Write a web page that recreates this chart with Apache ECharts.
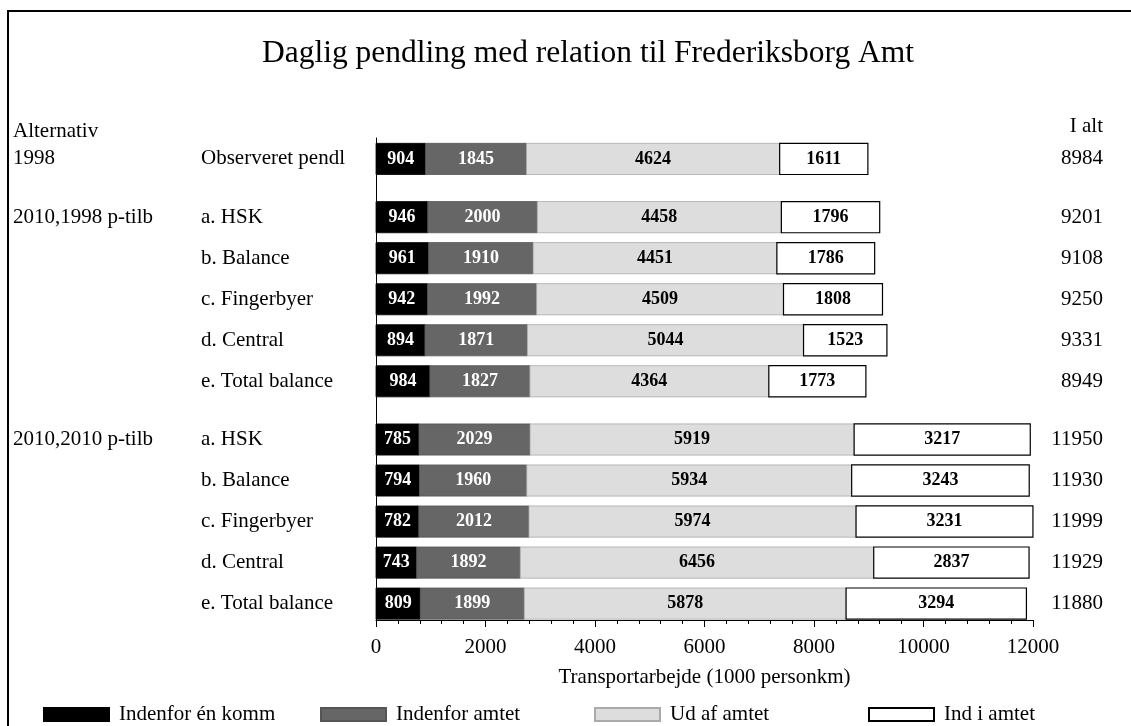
<!DOCTYPE html>
<html>
<head>
<meta charset="utf-8">
<script src="https://cdn.jsdelivr.net/npm/echarts@6/dist/echarts.min.js"></script>
<style>
    html, body { margin: 0; padding: 0; background: #fff; }
    #chart { width: 1131px; height: 726px; }
</style>
</head>
<body>
<div id="chart"></div>
<script>
// rækker (scenarier)
var rowNames = ['Observeret pendl', 'a. HSK', 'b. Balance', 'c. Fingerbyer', 'd. Central', 'e. Total balance',
    'a. HSK', 'b. Balance', 'c. Fingerbyer', 'd. Central', 'e. Total balance'];
var rowGroup = [0, 1, 1, 1, 1, 1, 2, 2, 2, 2, 2];
var groupNames = ['1998', '2010,1998 p-tilb', '2010,2010 p-tilb'];

var segNames = ['Indenfor én komm', 'Indenfor amtet', 'Ud af amtet', 'Ind i amtet'];
var indenforKomm = [904, 946, 961, 942, 894, 984, 785, 794, 782, 743, 809];
var indenforAmtet = [1845, 2000, 1910, 1992, 1871, 1827, 2029, 1960, 2012, 1892, 1899];
var udAfAmtet = [4624, 4458, 4451, 4509, 5044, 4364, 5919, 5934, 5974, 6456, 5878];
var indIAmtet = [1611, 1796, 1786, 1808, 1523, 1773, 3217, 3243, 3231, 2837, 3294];
var iAlt = [8984, 9201, 9108, 9250, 9331, 8949, 11950, 11930, 11999, 11929, 11880];

var xTicks = [0, 2000, 4000, 6000, 8000, 10000, 12000];

var FONT = '"Liberation Serif", "Times New Roman", serif';
var segValues = [indenforKomm, indenforAmtet, udAfAmtet, indIAmtet];
var segFill = ['#000000', '#666666', '#dddddd', '#ffffff'];
var segStroke = ['#000000', '#555555', '#aaaaaa', '#000000'];
var segText = ['#ffffff', '#ffffff', '#000000', '#000000'];

// lodret placering: lille mellemrum mellem grupperne
var GAP = 0.42;
function rowPos(i) {
    return i + rowGroup[i] * GAP;
}

function segData(k) {
    var data = [];
    for (var i = 0; i < rowNames.length; i++) {
        var start = 0;
        for (var j = 0; j < k; j++) start += segValues[j][i];
        data.push([start, segValues[k][i], rowPos(i)]);
    }
    return data;
}

function makeSeg(k) {
    return {
        type: 'custom',
        name: segNames[k],
        coordinateSystem: 'cartesian2d',
        itemStyle: { color: segFill[k], borderColor: segStroke[k], borderWidth: 1 },
        encode: { x: [0, 1], y: 2 },
        data: segData(k),
        renderItem: function (params, api) {
            var start = api.value(0);
            var len = api.value(1);
            var y = api.value(2);
            var p0 = api.coord([start, y]);
            var p1 = api.coord([start + len, y]);
            var h = api.size([0, 1])[1] * 0.76;
            return {
                type: 'rect',
                shape: { x: p0[0], y: p0[1] - h / 2, width: p1[0] - p0[0], height: h },
                style: { fill: segFill[k], stroke: segStroke[k], lineWidth: k == 3 ? 1.2 : 0.8 },
                textContent: {
                    style: { text: String(len), fill: segText[k], font: 'bold 18px ' + FONT }
                },
                textConfig: { position: 'inside' }
            };
        }
    };
}

var labelData = [];
for (var i = 0; i < rowNames.length; i++) {
    var first = (i == 0 || rowGroup[i] != rowGroup[i - 1]);
    labelData.push([0, rowPos(i), rowNames[i], first ? groupNames[rowGroup[i]] : '', iAlt[i]]);
}

var labelSeries = {
    type: 'custom',
    name: 'labels',
    coordinateSystem: 'cartesian2d',
    encode: { x: 0, y: 1 },
    data: labelData,
    silent: true,
    renderItem: function (params, api) {
        var p = api.coord([0, api.value(1)]);
        var d = labelData[params.dataIndex];
        var st = { font: '21px ' + FONT, fill: '#000', verticalAlign: 'middle' };
        return {
            type: 'group',
            children: [
                { type: 'text', x: 201, y: p[1], style: Object.assign({ text: d[2], align: 'left' }, st) },
                { type: 'text', x: 13, y: p[1], style: Object.assign({ text: d[3], align: 'left' }, st) },
                { type: 'text', x: 1103, y: p[1], style: Object.assign({ text: String(d[4]), align: 'right' }, st) }
            ]
        };
    }
};

var legendLeft = [43, 320, 594, 868];
var legends = segNames.map(function (n, k) {
    return {
        left: legendLeft[k],
        top: 704,
        padding: 0,
        itemWidth: 65,
        itemHeight: 13,
        itemGap: 0,
        icon: 'rect',
        selectedMode: false,
        data: [n],
        textStyle: { fontFamily: FONT, fontSize: 21, color: '#000', padding: [0, 0, 0, 5] }
    };
});

var dom = document.getElementById('chart');
var myChart = echarts.init(dom, null, { renderer: 'canvas' });

var option = {
    animation: false,
    backgroundColor: '#fff',
    title: {
        text: 'Daglig pendling med relation til Frederiksborg Amt',
        left: 257,
        top: 33,
        textStyle: { fontFamily: FONT, fontSize: 31.5, fontWeight: 'normal', color: '#000' }
    },
    legend: legends,
    grid: { left: 376, right: 98, top: 138, bottom: 106 },
    xAxis: {
        type: 'value',
        position: 'bottom',
        min: xTicks[0],
        max: xTicks[xTicks.length - 1],
        interval: 2000,
        name: 'Transportarbejde (1000 personkm)',
        nameLocation: 'middle',
        nameGap: 47,
        nameTextStyle: { fontFamily: FONT, fontSize: 21, color: '#000' },
        axisLine: { show: true, onZero: false, lineStyle: { color: '#000', width: 1 } },
        axisTick: { show: true, length: 7, lineStyle: { color: '#000' } },
        minorTick: { show: true, splitNumber: 5, length: 4, lineStyle: { color: '#000' } },
        splitLine: { show: false },
        axisLabel: { fontFamily: FONT, fontSize: 21, color: '#000', margin: 17, formatter: function (v) { return String(v); } }
    },
    yAxis: {
        type: 'value',
        inverse: true,
        min: -0.51,
        max: 11.24,
        axisLine: { show: true, onZero: false, lineStyle: { color: '#000', width: 1 } },
        axisTick: { show: false },
        axisLabel: { show: false },
        splitLine: { show: false }
    },
    graphic: [
        { type: 'rect', shape: { x: 8, y: 11, width: 1130, height: 730 }, style: { fill: 'none', stroke: '#000', lineWidth: 2 }, silent: true },
        { type: 'text', x: 13, y: 131, style: { text: 'Alternativ', font: '21px ' + FONT, fill: '#000', verticalAlign: 'middle' } },
        { type: 'text', x: 1103, y: 126, style: { text: 'I alt', font: '21px ' + FONT, fill: '#000', align: 'right', verticalAlign: 'middle' } }
    ],
    series: [makeSeg(0), makeSeg(1), makeSeg(2), makeSeg(3), labelSeries]
};

myChart.setOption(option);
window.addEventListener('resize', myChart.resize);
</script>
</body>
</html>
